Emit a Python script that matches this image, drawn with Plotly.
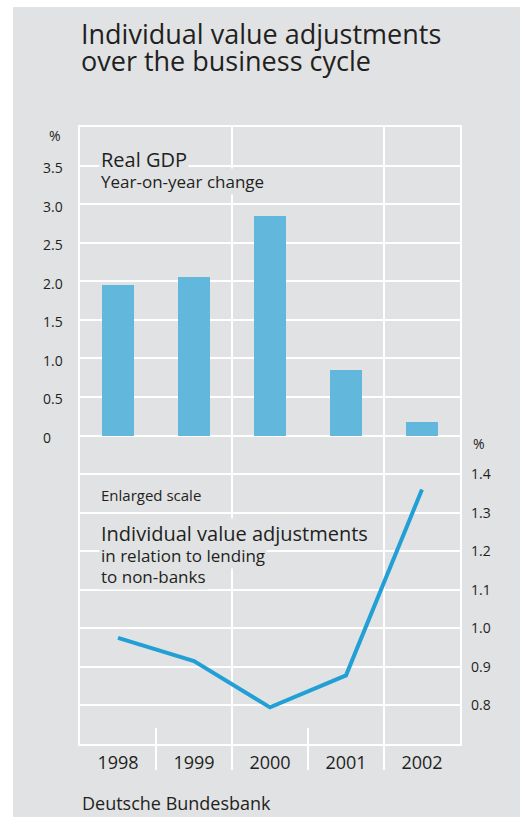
import plotly.graph_objects as go

# ---- data ----
years = [1998, 1999, 2000, 2001, 2002]
year_labels = ["1998", "1999", "2000", "2001", "2002"]
gdp_growth = [1.95, 2.05, 2.85, 0.85, 0.17]          # % yoy, left scale
iva_ratio = [0.975, 0.915, 0.795, 0.878, 1.36]        # % of lending, right scale
gdp_ticks = [0, 0.5, 1.0, 1.5, 2.0, 2.5, 3.0, 3.5]
gdp_tick_labels = ["0", "0.5", "1.0", "1.5", "2.0", "2.5", "3.0", "3.5"]
iva_ticks = [0.8, 0.9, 1.0, 1.1, 1.2, 1.3, 1.4]
iva_tick_labels = ["0.8", "0.9", "1.0", "1.1", "1.2", "1.3", "1.4"]

# ---- style ----
W, H = 520, 817
L, R, T, B = 80, 60, 127, 73
PW, PH = W - L - R, H - T - B
BG = "#e1e2e4"
TXT = "#231f20"
BAR = "#62b8dc"
LINE = "#22a0d6"
FONT = "Open Sans"


def px(xp):
    return (xp - L) / PW


def py(yp):
    return (H - B - yp) / PH


fig = go.Figure()
fig.add_trace(go.Bar(x=years, y=gdp_growth, width=0.41, marker=dict(color=BAR, line=dict(width=0)),
                     yaxis="y", hoverinfo="skip"))
fig.add_trace(go.Scatter(x=years, y=iva_ratio, mode="lines", line=dict(color=LINE, width=4),
                         yaxis="y2", hoverinfo="skip"))

shapes = [dict(type="rect", xref="paper", yref="paper", x0=px(13), x1=px(W + 5), y0=py(H + 5), y1=py(7),
               fillcolor=BG, line=dict(width=0), layer="below")]
bounds = [y + 0.5 for y in years[:-1]]
for i, bx in enumerate(bounds):
    if i % 2 == 1:
        shapes.append(dict(type="line", xref="x", yref="paper", x0=bx, x1=bx, y0=py(770), y1=1,
                           line=dict(color="white", width=2), layer="below"))
    else:
        shapes.append(dict(type="line", xref="x", yref="paper", x0=bx, x1=bx, y0=py(770), y1=py(728),
                           line=dict(color="white", width=2), layer="below"))

ann = []


def text(t, x, y, size, xanchor="left", bg=None, pad=1):
    d = dict(text=t, xref="paper", yref="paper", x=px(x), y=py(y), xanchor=xanchor, yanchor="middle",
             showarrow=False, font=dict(family=FONT, size=size, color=TXT), borderpad=pad)
    if bg:
        d["bgcolor"] = bg
    ann.append(d)


text("Individual value adjustments", 79, 33, 27)
text("over the business cycle", 79, 61, 27)
text("Real GDP", 99, 159, 20, bg=BG)
text("Year-on-year change", 99, 181, 17, bg=BG)
text("Enlarged scale", 99, 495, 15, bg=BG)
text("Individual value adjustments", 99, 533, 20, bg=BG)
text("in relation to lending", 99, 555, 17, bg=BG)
text("to non-banks", 99, 576, 17, bg=BG)
text("Deutsche Bundesbank", 80, 803, 18)
text("%", 63, 135, 14, xanchor="right")
text("%", 471, 443, 14)
for v, lab in zip(gdp_ticks, gdp_tick_labels):
    ann.append(dict(text=lab, xref="paper", yref="y", x=px(41), y=v, xanchor="left", yanchor="middle",
                    yshift=-2, showarrow=False, font=dict(family=FONT, size=14, color=TXT)))

fig.update_layout(
    width=W, height=H, autosize=False, template="none",
    margin=dict(l=L, r=R, t=T, b=B, pad=0),
    paper_bgcolor="white", plot_bgcolor=BG,
    showlegend=False, bargap=0,
    shapes=shapes, annotations=ann,
    xaxis=dict(range=[years[0] - 0.5, years[-1] + 0.5], tickvals=years, ticktext=year_labels,
               showgrid=False, zeroline=False, showline=True, mirror=True, linecolor="white", linewidth=2,
               ticks="", ticklabelstandoff=1, automargin=False,
               tickfont=dict(family=FONT, size=18, color=TXT)),
    yaxis=dict(range=[-4, 4], tick0=0, dtick=0.5, showticklabels=False, showgrid=True,
               gridcolor="white", gridwidth=2, zeroline=False, showline=True, mirror=True,
               linecolor="white", linewidth=2, ticks="", automargin=False),
    yaxis2=dict(range=[0.7, 2.3], overlaying="y", side="right", tickvals=iva_ticks, ticktext=iva_tick_labels,
                showgrid=False, zeroline=False, showline=False, ticks="", ticklabelstandoff=10,
                automargin=False, tickfont=dict(family=FONT, size=14, color=TXT)),
)

fig.write_html("out.html", config={"displayModeBar": False},
               post_script="document.body.style.margin='0';document.body.style.overflow='hidden';")
